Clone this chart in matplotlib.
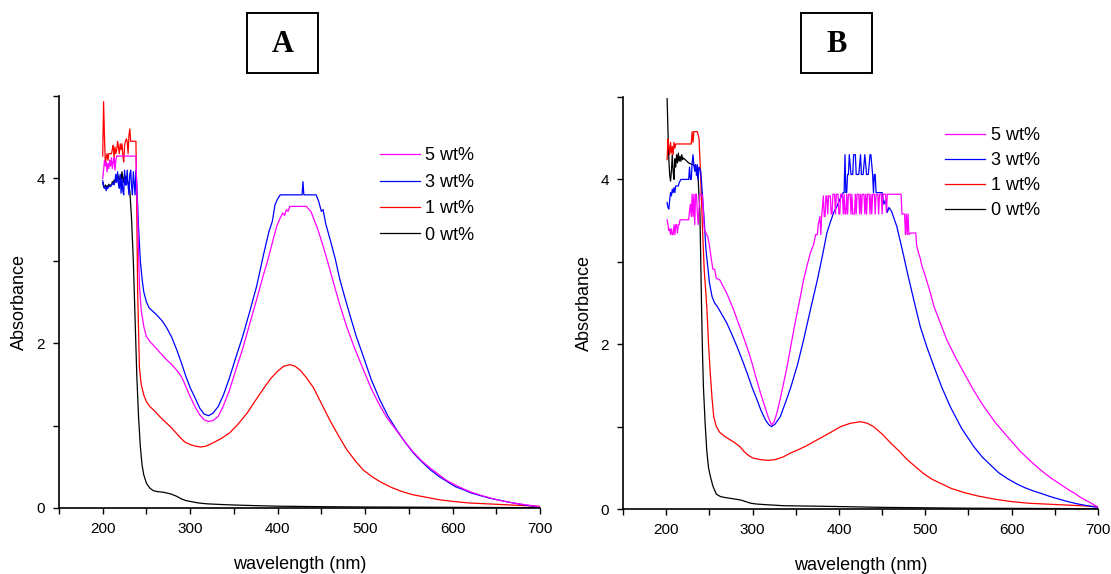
import numpy as np
import matplotlib
matplotlib.use("Agg")
import matplotlib.pyplot as plt
from matplotlib.patches import Rectangle
from matplotlib.ticker import MultipleLocator

plt.rcParams['font.family'] = ['Liberation Sans', 'DejaVu Sans']

# ---------------- Panel A ----------------
a0_wl = [200, 201, 202, 203, 204, 205, 206, 207, 208, 209, 210, 211, 212, 213, 214, 215,
         216, 217, 218, 219, 220, 221, 222, 223, 224, 225, 226, 227, 228, 229, 230, 231,
         233, 235, 237, 239, 241, 243, 245, 247, 250, 254, 258, 262, 270, 278, 285, 290,
         295, 300, 310, 320, 340, 360, 380, 400, 450, 500, 550, 600, 650, 700]
a0_ab = [3.95, 3.90, 3.88, 3.92, 3.89, 3.91, 3.90, 3.93, 3.91, 3.92, 3.92, 3.96, 3.93, 3.98,
         3.95, 4.02, 3.97, 4.05, 4.00, 3.98, 4.03, 3.97, 4.08, 4.00, 3.95, 4.05, 3.98, 4.02,
         3.97, 3.95, 3.90, 3.85, 3.50, 3.00, 2.30, 1.60, 1.10, 0.75, 0.52, 0.40, 0.30, 0.24,
         0.21, 0.20, 0.19, 0.17, 0.14, 0.11, 0.09, 0.08, 0.06, 0.05, 0.04, 0.033, 0.027, 0.022,
         0.016, 0.012, 0.010, 0.008, 0.006, 0.004]

a1_wl = [200, 201, 202, 203, 204, 205, 206, 207, 208, 209, 210, 211, 212, 213, 214, 215,
         216, 217, 218, 219, 220, 221, 222, 223, 224, 225, 226, 227, 228, 229, 230, 231,
         232, 234, 236, 238, 240, 242, 244, 247, 250, 254, 260, 266, 272, 278, 284, 289,
         294, 300, 306, 312, 318, 326, 335, 345, 355, 365, 375, 384, 392, 400, 407, 414,
         420, 426, 433, 441, 450, 460, 470, 479, 489, 498, 508, 517, 530, 542, 555, 570,
         585, 600, 620, 640, 660, 680, 700]
a1_ab = [4.27, 4.93, 4.50, 4.19, 4.25, 4.30, 4.22, 4.30, 4.30, 4.30, 4.30, 4.35, 4.40, 4.25,
         4.38, 4.30, 4.35, 4.45, 4.38, 4.30, 4.42, 4.35, 4.42, 4.28, 4.20, 4.40, 4.45, 4.48,
         4.45, 4.30, 4.52, 4.60, 4.45, 4.45, 4.45, 4.45, 2.60, 1.70, 1.50, 1.37, 1.29, 1.23,
         1.17, 1.10, 1.04, 0.98, 0.91, 0.85, 0.80, 0.77, 0.75, 0.74, 0.75, 0.79, 0.84, 0.91,
         1.02, 1.15, 1.31, 1.45, 1.57, 1.66, 1.72, 1.74, 1.72, 1.67, 1.58, 1.46, 1.27, 1.06,
         0.87, 0.71, 0.57, 0.46, 0.38, 0.32, 0.25, 0.20, 0.16, 0.13, 0.10, 0.08, 0.06, 0.05,
         0.04, 0.03, 0.02]

a3_wl = [200, 201, 202, 203, 204, 205, 206, 207, 208, 209, 210, 211, 212, 213, 214, 215,
         216, 217, 218, 219, 220, 221, 222, 223, 224, 225, 226, 227, 228, 229, 230, 231,
         232, 233, 234, 235, 236, 237, 238, 239, 241, 243, 245, 247, 250, 253, 257, 262,
         268, 273, 279, 285, 290, 295, 300, 305, 311, 316, 321, 326, 332, 338, 345, 352,
         360, 368, 376, 384, 390, 394, 397, 400, 403, 428, 429, 430, 444, 447, 450, 452,
         455, 460, 466, 471, 477, 483, 490, 498, 507, 517, 526, 536, 545, 555, 565, 575,
         585, 594, 603, 613, 622, 632, 642, 651, 660, 670, 680, 690, 700]
a3_ab = [3.97, 3.92, 3.88, 3.90, 3.85, 3.89, 3.88, 3.91, 3.90, 3.90, 3.92, 3.93, 3.95, 3.92,
         3.97, 4.05, 3.95, 4.08, 3.93, 3.88, 4.05, 3.82, 4.00, 3.85, 3.80, 4.10, 3.92, 3.92,
         4.10, 3.92, 3.80, 4.05, 4.10, 3.90, 3.80, 4.08, 3.95, 3.80, 4.10, 3.92, 3.40, 3.00,
         2.78, 2.62, 2.50, 2.43, 2.39, 2.34, 2.27, 2.19, 2.07, 1.91, 1.76, 1.60, 1.46, 1.35,
         1.21, 1.14, 1.12, 1.15, 1.23, 1.37, 1.58, 1.82, 2.08, 2.38, 2.69, 3.08, 3.35, 3.48,
         3.68, 3.75, 3.80, 3.80, 3.96, 3.80, 3.80, 3.72, 3.60, 3.62, 3.45, 3.26, 3.02, 2.78,
         2.55, 2.33, 2.08, 1.84, 1.56, 1.31, 1.12, 0.95, 0.81, 0.67, 0.56, 0.46, 0.38, 0.32,
         0.26, 0.22, 0.18, 0.15, 0.12, 0.10, 0.08, 0.06, 0.04, 0.025, 0.01]

a5_wl = [200, 201, 202, 203, 204, 205, 206, 207, 208, 209, 210, 211, 212, 213, 214, 215,
         216, 238, 240, 242, 244, 247, 250, 254, 260, 266, 272, 278, 284, 289, 292, 296,
         300, 306, 311, 316, 321, 326, 332, 338, 345, 352, 360, 368, 376, 383, 388, 394,
         399, 403, 406, 408, 410, 412, 414, 433, 436, 438, 441, 446, 452, 458, 464, 471,
         479, 488, 498, 507, 517, 526, 536, 545, 555, 565, 575, 585, 594, 603, 613, 622,
         632, 642, 651, 660, 670, 680, 690, 700]
a5_ab = [4.00, 4.10, 4.22, 4.15, 4.20, 4.08, 4.18, 4.12, 4.22, 4.15, 4.25, 4.12, 4.20, 4.25,
         4.10, 4.22, 4.27, 4.27, 3.50, 2.70, 2.40, 2.20, 2.08, 2.02, 1.95, 1.88, 1.81, 1.75,
         1.68, 1.61, 1.55, 1.45, 1.35, 1.22, 1.13, 1.07, 1.05, 1.06, 1.11, 1.24, 1.43, 1.67,
         1.93, 2.23, 2.53, 2.80, 2.98, 3.22, 3.42, 3.52, 3.58, 3.55, 3.62, 3.60, 3.66, 3.66,
         3.62, 3.60, 3.52, 3.38, 3.18, 2.96, 2.73, 2.47, 2.20, 1.94, 1.68, 1.45, 1.24, 1.08,
         0.94, 0.81, 0.68, 0.57, 0.48, 0.40, 0.33, 0.28, 0.23, 0.19, 0.155, 0.125, 0.10, 0.08,
         0.06, 0.045, 0.03, 0.015]

# ---------------- Panel B ----------------
b0_wl = [201, 202, 203, 204, 205, 206, 207, 208, 209, 210, 211, 212, 213, 214, 215, 216,
         217, 218, 219, 220, 222, 224, 226, 228, 231, 234, 237, 239, 240, 241, 242, 243,
         245, 247, 249, 251, 254, 258, 263, 268, 274, 280, 286, 292, 298, 305, 320, 336,
         370, 400, 450, 500, 550, 600, 650, 700]
b0_ab = [4.98, 4.60, 4.25, 4.05, 3.98, 4.10, 4.30, 4.10, 4.00, 4.25, 4.15, 4.30, 4.20, 4.32,
         4.22, 4.28, 4.22, 4.30, 4.24, 4.26, 4.24, 4.22, 4.20, 4.19, 4.18, 4.15, 4.00, 3.60,
         3.00, 2.40, 1.90, 1.50, 1.05, 0.70, 0.50, 0.40, 0.28, 0.18, 0.15, 0.14, 0.13, 0.12,
         0.11, 0.09, 0.07, 0.06, 0.05, 0.04, 0.035, 0.03, 0.02, 0.015, 0.01, 0.008, 0.006, 0.004]

b1_wl = [201, 202, 203, 204, 205, 206, 207, 208, 209, 210, 211, 212, 229, 230, 231, 232,
         236, 238, 240, 242, 244, 247, 249, 251, 253, 255, 258, 262, 268, 274, 280, 286,
         290, 294, 300, 309, 318, 326, 335, 344, 353, 363, 373, 382, 392, 402, 413, 425,
         433, 440, 450, 460, 470, 479, 489, 498, 508, 518, 530, 545, 560, 580, 600, 620,
         640, 660, 680, 700]
b1_ab = [4.24, 4.49, 4.40, 4.30, 4.45, 4.32, 4.40, 4.30, 4.45, 4.38, 4.43, 4.43, 4.43, 4.58,
         4.45, 4.58, 4.58, 4.50, 4.00, 3.40, 2.90, 2.45, 2.00, 1.65, 1.35, 1.12, 1.00, 0.93,
         0.88, 0.84, 0.80, 0.75, 0.70, 0.66, 0.62, 0.60, 0.59, 0.60, 0.63, 0.68, 0.72, 0.77,
         0.83, 0.88, 0.94, 1.00, 1.04, 1.06, 1.04, 1.00, 0.91, 0.80, 0.70, 0.60, 0.51, 0.43,
         0.36, 0.31, 0.25, 0.20, 0.16, 0.12, 0.09, 0.07, 0.06, 0.05, 0.04, 0.03]

b3_wl = [201, 202, 203, 204, 205, 206, 207, 208, 209, 210, 211, 212, 214, 215, 217, 226,
         227, 228, 229, 230, 231, 232, 233, 234, 235, 236, 237, 238, 240, 242, 244, 246,
         248, 250, 253, 256, 259, 264, 270, 276, 282, 288, 294, 300, 305, 310, 315, 319,
         322, 326, 332, 338, 344, 352, 359, 367, 375, 381, 386, 390, 394, 398, 402, 405,
         406, 407, 408, 409, 410, 411, 412, 414, 416, 417, 419, 420, 423, 425, 426, 428,
         430, 432, 434, 436, 437, 439, 440, 441, 442, 443, 450, 452, 454, 456, 458, 461,
         464, 467, 471, 475, 479, 483, 488, 494, 502, 510, 519, 529, 542, 556, 566, 576,
         585, 595, 605, 615, 625, 634, 645, 655, 665, 675, 685, 693, 700]
b3_ab = [3.72, 3.66, 3.64, 3.75, 3.84, 3.80, 3.88, 3.84, 3.90, 3.84, 3.92, 3.92, 3.92, 3.96,
         4.00, 4.00, 4.15, 4.00, 4.00, 4.20, 4.30, 4.18, 4.10, 4.18, 4.05, 4.18, 4.00, 4.15,
         4.10, 3.80, 3.50, 3.15, 2.95, 2.75, 2.58, 2.50, 2.46, 2.37, 2.26, 2.12, 1.97, 1.81,
         1.64, 1.46, 1.33, 1.19, 1.08, 1.02, 1.00, 1.03, 1.12, 1.29, 1.47, 1.75, 2.05, 2.42,
         2.78, 3.08, 3.35, 3.48, 3.60, 3.68, 3.78, 3.84, 3.84, 4.30, 3.84, 3.84, 4.06, 4.06,
         4.30, 4.06, 4.06, 4.30, 4.30, 4.06, 4.06, 4.30, 4.06, 4.06, 4.30, 4.06, 4.06, 4.30,
         4.30, 4.06, 3.84, 4.06, 4.06, 3.84, 3.84, 3.70, 3.75, 3.60, 3.66, 3.61, 3.52, 3.43,
         3.25, 3.07, 2.88, 2.70, 2.48, 2.22, 1.96, 1.73, 1.48, 1.24, 0.98, 0.76, 0.63, 0.53,
         0.44, 0.37, 0.31, 0.26, 0.22, 0.19, 0.15, 0.12, 0.09, 0.065, 0.045, 0.03, 0.02]

b5_wl = [201, 202, 203, 204, 205, 206, 207, 208, 209, 210, 211, 212, 213, 214, 215, 216,
         226, 227, 228, 229, 230, 231, 232, 233, 234, 235, 236, 237, 239, 240, 242, 244,
         246, 248, 250, 252, 254, 256, 258, 262, 266, 270, 274, 278, 282, 286, 290, 294,
         298, 302, 306, 310, 314, 318, 322, 325, 328, 331, 335, 340, 345, 350, 355, 359,
         363, 367, 371, 373, 375, 376, 378, 379, 380, 382, 383, 384, 385, 386, 387, 388,
         390, 391, 392, 393, 395, 396, 397, 399, 400, 401, 402, 404, 405, 406, 407, 408,
         409, 410, 411, 413, 414, 415, 416, 418, 419, 420, 421, 423, 424, 425, 426, 427,
         429, 430, 431, 432, 433, 435, 436, 437, 438, 439, 441, 442, 443, 445, 446, 447,
         449, 450, 451, 454, 455, 456, 472, 473, 476, 477, 478, 479, 480, 481, 483, 489,
         490, 492, 494, 496, 499, 502, 506, 510, 518, 525, 535, 545, 556, 568, 581, 595,
         610, 622, 634, 645, 655, 665, 673, 680, 687, 694, 700]
b5_ab = [3.51, 3.45, 3.38, 3.40, 3.33, 3.40, 3.33, 3.33, 3.45, 3.33, 3.45, 3.45, 3.35, 3.45,
         3.45, 3.51, 3.51, 3.62, 3.70, 3.55, 3.82, 3.55, 3.82, 3.45, 3.82, 3.82, 3.60, 3.45,
         3.82, 3.82, 3.80, 3.40, 3.35, 3.31, 3.20, 3.05, 2.91, 2.91, 2.80, 2.78, 2.70, 2.62,
         2.52, 2.42, 2.30, 2.19, 2.07, 1.95, 1.82, 1.67, 1.52, 1.38, 1.25, 1.12, 1.02, 1.06,
         1.16, 1.29, 1.48, 1.73, 2.02, 2.30, 2.56, 2.78, 2.95, 3.11, 3.22, 3.33, 3.33, 3.45,
         3.55, 3.33, 3.55, 3.80, 3.55, 3.55, 3.80, 3.80, 3.58, 3.80, 3.80, 3.58, 3.58, 3.82,
         3.82, 3.58, 3.82, 3.82, 3.58, 3.58, 3.82, 3.82, 3.58, 3.82, 3.58, 3.58, 3.82, 3.58,
         3.82, 3.82, 3.58, 3.82, 3.58, 3.58, 3.82, 3.58, 3.82, 3.82, 3.58, 3.82, 3.58, 3.82,
         3.82, 3.58, 3.82, 3.58, 3.82, 3.82, 3.58, 3.82, 3.58, 3.82, 3.82, 3.58, 3.82, 3.82,
         3.58, 3.82, 3.82, 3.58, 3.82, 3.82, 3.60, 3.82, 3.82, 3.58, 3.58, 3.33, 3.58, 3.33,
         3.58, 3.33, 3.35, 3.35, 3.20, 3.11, 3.05, 2.95, 2.86, 2.76, 2.62, 2.46, 2.24, 2.05,
         1.84, 1.65, 1.44, 1.24, 1.05, 0.88, 0.70, 0.58, 0.47, 0.38, 0.31, 0.24, 0.19, 0.14,
         0.10, 0.06, 0.02]

labels = ["5 wt%", "3 wt%", "1 wt%", "0 wt%"]
colors = ["#ff00ff", "#0000ff", "#ff0000", "#000000"]

panels = [
    dict(name="A", rect=[0.0531, 0.1150, 0.4329, 0.7178],
         data=[(a5_wl, a5_ab), (a3_wl, a3_ab), (a1_wl, a1_ab), (a0_wl, a0_ab)],
         leg=(0.667, 0.875), lspace=0.52, box=(247, 13)),
    dict(name="B", rect=[0.5608, 0.1132, 0.4275, 0.7178],
         data=[(b5_wl, b5_ab), (b3_wl, b3_ab), (b1_wl, b1_ab), (b0_wl, b0_ab)],
         leg=(0.678, 0.926), lspace=0.44, box=(801, 13)),
]

fig = plt.figure(figsize=(11.11, 5.74), dpi=100)

for p in panels:
    ax = fig.add_axes(p["rect"])
    handles = []
    # draw 0 wt% first so coloured curves sit on top
    for (wl, ab), lab, col in reversed(list(zip(p["data"], labels, colors))):
        h, = ax.plot(wl, ab, color=col, lw=0.9, label=lab)
        handles.insert(0, h)

    ax.set_xlim(150, 700)
    ax.set_ylim(0, 5)
    ax.xaxis.set_major_locator(MultipleLocator(100))
    ax.xaxis.set_minor_locator(MultipleLocator(50))
    ax.yaxis.set_major_locator(MultipleLocator(2))
    ax.yaxis.set_minor_locator(MultipleLocator(1))
    ax.tick_params(which="both", direction="out", length=4, width=1.0,
                   labelsize=11, color="black")
    ax.tick_params(axis="x", pad=6)
    ax.tick_params(axis="y", pad=6)
    for s in ("top", "right"):
        ax.spines[s].set_visible(False)
    for s in ("left", "bottom"):
        ax.spines[s].set_linewidth(1.2)

    ax.text(-0.082, 0.5, "Absorbance", rotation=90, ha="center", va="center",
            fontsize=13, transform=ax.transAxes)
    ax.text(0.5, -0.136, "wavelength (nm)", ha="center", va="center",
            fontsize=13, transform=ax.transAxes)

    ax.legend(handles=handles, loc="upper left", bbox_to_anchor=p["leg"],
              frameon=False, fontsize=13, handlelength=2.2, handletextpad=0.33,
              labelspacing=p["lspace"], borderaxespad=0, borderpad=0)

    # panel letter in a box
    bx, by = p["box"]
    W, H = 1111.0, 574.0
    fig.patches.append(Rectangle((bx / W, 1 - (by + 60) / H), 71 / W, 60 / H,
                                 transform=fig.transFigure, fill=False,
                                 edgecolor="black", lw=1.4))
    fig.text((bx + 35.5) / W, 1 - (by + 31) / H, p["name"], ha="center", va="center",
             fontsize=22, fontweight="bold", family=["Liberation Serif", "DejaVu Serif"])

fig.savefig("out.png", dpi=100)
